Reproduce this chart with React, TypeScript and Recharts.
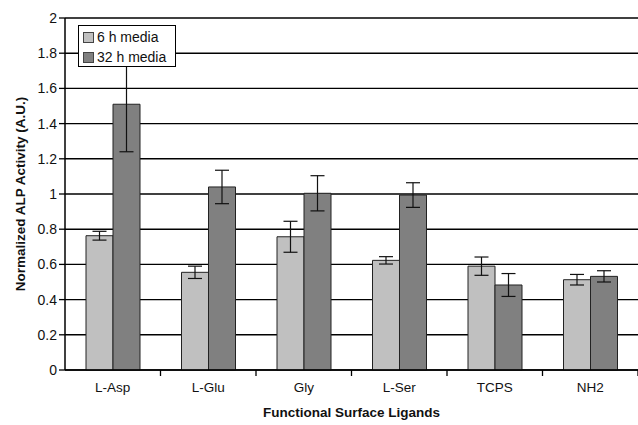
import {
  Bar,
  BarChart,
  CartesianGrid,
  ErrorBar,
  Label,
  Legend,
  XAxis,
  YAxis,
} from 'recharts';

const categories = ['L-Asp', 'L-Glu', 'Gly', 'L-Ser', 'TCPS', 'NH2'];
const media6h = [0.763, 0.555, 0.757, 0.623, 0.59, 0.513];
const err6h = [0.025, 0.035, 0.088, 0.021, 0.052, 0.03];
const media32h = [1.51, 1.04, 1.004, 0.994, 0.483, 0.532];
const err32h = [0.27, 0.095, 0.1, 0.07, 0.065, 0.032];
const yTicks = [0, 0.2, 0.4, 0.6, 0.8, 1, 1.2, 1.4, 1.6, 1.8, 2];

const data = categories.map((name, i) => ({
  name,
  h6: media6h[i],
  e6: err6h[i],
  h32: media32h[i],
  e32: err32h[i],
}));

const W = 638;
const H = 425;
const LEFT = 65;
const RIGHT = 0;
const FONT = 'Arial, "Liberation Sans", sans-serif';
const LIGHT = '#c0c0c0';
const DARK = '#808080';
const band = (W - LEFT - RIGHT) / categories.length;

function CatTick(props: any) {
  const { x, y, payload } = props;
  return (
    <g>
      <line x1={x + band / 2} y1={y - 8} x2={x + band / 2} y2={y - 2} stroke="#000" strokeWidth={1.3} />
      <text x={x} y={y + 14} textAnchor="middle" fontSize={13.5} fill="#111" fontFamily={FONT}>
        {payload.value}
      </text>
    </g>
  );
}

function LegendBox() {
  const items = [
    { label: '6 h media', color: LIGHT },
    { label: '32 h media', color: DARK },
  ];
  return (
    <div
      style={{
        position: 'absolute',
        left: 78,
        top: 25,
        width: 98,
        height: 42,
        background: '#fff',
        border: '1px solid #000',
        fontFamily: FONT,
        fontSize: 14,
        color: '#111',
        padding: '1px 0 0 4px',
        boxSizing: 'border-box',
      }}
    >
      {items.map((it) => (
        <div key={it.label} style={{ display: 'flex', alignItems: 'center', height: 20 }}>
          <span
            style={{
              display: 'inline-block',
              width: 9,
              height: 9,
              background: it.color,
              border: '1px solid #444',
              marginRight: 3,
            }}
          />
          {it.label}
        </div>
      ))}
    </div>
  );
}

export default function App() {
  return (
    <div style={{ position: 'absolute', left: 0, top: 0, width: W, height: H, background: '#fff' }}>
      <BarChart
        width={W}
        height={H}
        data={data}
        margin={{ top: 18, right: RIGHT, left: 0, bottom: 0 }}
        barGap={0}
        barSize={27}
      >
        <CartesianGrid vertical={false} stroke="#000" strokeWidth={1.4} />
        <XAxis
          dataKey="name"
          height={55}
          axisLine={{ stroke: '#000', strokeWidth: 1.5 }}
          tickLine={false}
          tick={<CatTick />}
          interval={0}
        >
          <Label
            value="Functional Surface Ligands"
            position="insideBottom"
            offset={8}
            style={{ fontFamily: FONT, fontSize: 13.5, fontWeight: 'bold', fill: '#111' }}
          />
        </XAxis>
        <YAxis
          width={LEFT}
          domain={[0, 2]}
          ticks={yTicks}
          interval={0}
          axisLine={{ stroke: '#000', strokeWidth: 1.5 }}
          tickLine={{ stroke: '#000', strokeWidth: 1.3 }}
          tickSize={6}
          tick={{ fontSize: 14, fill: '#111', fontFamily: FONT }}
        >
          <Label
            value="Normalized ALP Activity (A.U.)"
            angle={-90}
            position="insideLeft"
            offset={20}
            style={{ fontFamily: FONT, fontSize: 13.5, fontWeight: 'bold', fill: '#111', textAnchor: 'middle' }}
          />
        </YAxis>
        <Legend content={<LegendBox />} wrapperStyle={{ position: 'absolute', left: 0, top: 0, width: 0, height: 0 }} />
        <Bar dataKey="h6" name="6 h media" fill={LIGHT} stroke="#222" strokeWidth={1} isAnimationActive={false}>
          <ErrorBar dataKey="e6" width={7} stroke="#111" strokeWidth={1.2} />
        </Bar>
        <Bar dataKey="h32" name="32 h media" fill={DARK} stroke="#222" strokeWidth={1} isAnimationActive={false}>
          <ErrorBar dataKey="e32" width={7} stroke="#111" strokeWidth={1.2} />
        </Bar>
      </BarChart>
    </div>
  );
}
